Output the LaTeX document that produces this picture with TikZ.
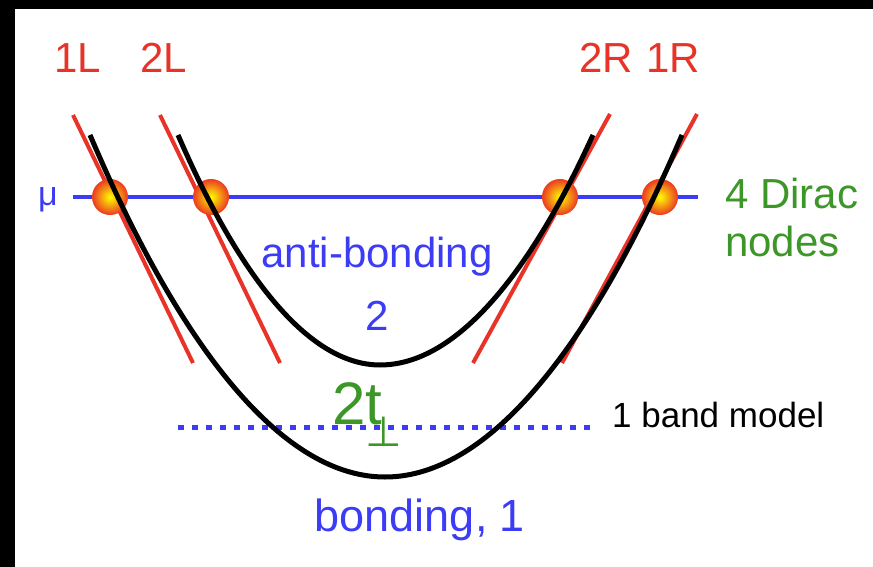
\documentclass[tikz,border=0pt]{standalone}
\usepackage{fontspec}
\setmainfont{Liberation Sans}
\newfontfamily\symfam{DejaVu Sans}
\usetikzlibrary{positioning}
\definecolor{tanred}{RGB}{232,52,40}
\definecolor{mublue}{RGB}{60,60,245}
\definecolor{dgreen}{RGB}{60,150,40}
\begin{document}
\begin{tikzpicture}[
  x=1pt, y=-1pt,
  lbl/.style={font=\fontsize{42}{48}\selectfont, inner sep=0pt},
  tangent/.style={tanred, line width=4pt},
  band/.style={black, line width=5pt},
  dirac/.style={circle, minimum size=35pt, inner sep=0pt, draw=tanred!80!orange, line width=1pt, inner color=yellow, outer color=tanred!85!orange}
]
% frame and margins
\fill[black] (0,0) rectangle (873,567);
\fill[white] (15,9) rectangle (873,567);
\useasboundingbox (0,0) rectangle (873,567);
% chemical potential
\node[lbl, text=mublue, font=\fontsize{34}{40}\selectfont] (mu) at (48,200) {μ};
\coordinate (muL) at (73,197);
\coordinate (muR) at (698,197);
\draw[mublue, line width=4pt] (muL) -- (muR);
% one band model level
\coordinate (obL) at (178,427);
\coordinate (obR) at (592,427);
\draw[mublue, line width=5pt, dash pattern=on 6pt off 8pt] (obL) -- (obR);
% bands
\coordinate (b1a) at (90,135);
\coordinate (b1v) at (385,477);
\coordinate (b1b) at (682,135);
\coordinate (b2a) at (178,135);
\coordinate (b2v) at (380,365);
\coordinate (b2b) at (593,135);
% linearised branches
\coordinate (r1La) at (73,115);  \coordinate (r1Lb) at (193,363);
\coordinate (r2La) at (160,115); \coordinate (r2Lb) at (280,363);
\coordinate (r2Ra) at (610,114); \coordinate (r2Rb) at (473,363);
\coordinate (r1Ra) at (697,114); \coordinate (r1Rb) at (562,363);
\draw[tangent] (r1La) -- (r1Lb);
\draw[tangent] (r2La) -- (r2Lb);
\draw[tangent] (r2Ra) -- (r2Rb);
\draw[tangent] (r1Ra) -- (r1Rb);
% Dirac nodes
\node[dirac] (d1L) at (110,197) {};
\node[dirac] (d2L) at (211,197) {};
\node[dirac] (d2R) at (560,197) {};
\node[dirac] (d1R) at (660,197) {};
\draw[band] (b1a) parabola bend (b1v) (b1b);
\draw[band] (b2a) parabola bend (b2v) (b2b);
% labels
\node[lbl, text=tanred] (l1L) at (78,58) {1L};
\node[lbl, text=tanred] (l2L) at (164,58) {2L};
\node[lbl, text=tanred] (l2R) at (606,58) {2R};
\node[lbl, text=tanred] (l1R) at (673,58) {1R};
\node[lbl, text=dgreen, align=left, anchor=west] (dn) at (725,217) {4 Dirac\\nodes};
\node[lbl, text=mublue] (ab) at (377,257) {anti-bonding};
\node[lbl, text=mublue] (ab2) at (377,316) {2};
\node[lbl, text=dgreen, font=\fontsize{60}{66}\selectfont, anchor=base west] (tp) at (332,424) {2t};
\node[lbl, text=dgreen, font=\symfam\fontsize{42}{48}\selectfont, anchor=base] (perp) at (384,446) {⊥};
\node[lbl, font=\fontsize{35}{40}\selectfont, anchor=west] (obm) at (612,415) {1 band model};
\node[lbl, text=mublue, font=\fontsize{45}{50}\selectfont] (bd) at (420,520) {bonding, 1};
\end{tikzpicture}
\end{document}
